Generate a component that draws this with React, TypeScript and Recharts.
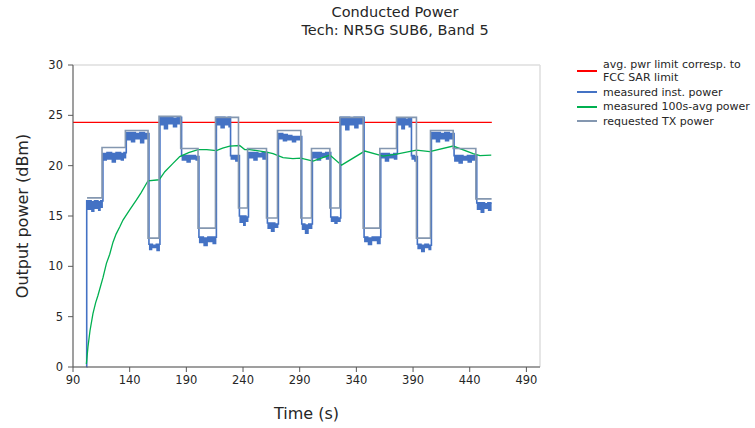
// App.tsx
//
// Conducted power vs. time for NR5G SUB6, Band 5.
// Requested TX power is a step trace, measured instantaneous power a noisy band
// just under it, plus the 100 s running average and the FCC SAR power limit.
// Two charts are stacked on the same scales: the lower one holds the grid and
// the limit line, so the measured band paints over the limit as in the original.

import {
  ComposedChart,
  Line,
  Area,
  XAxis,
  YAxis,
  CartesianGrid,
  Legend,
} from 'recharts';

// ─── Data ─────────────────────────────────────────────────────────────────────

const xTicks = [90, 140, 190, 240, 290, 340, 390, 440, 490];
const yTicks = [0, 5, 10, 15, 20, 25, 30];

// avg. pwr limit corresp. to FCC SAR limit
const limitTimes  = [90, 459.5];
const limitValues = [24.3, 24.3];

// requested TX power (value holds until the next time)
const reqTimes = [
  102.4, 115.6, 136.2, 156.2, 165.9, 185, 200.3, 215.7, 236, 244, 260.7, 270.4,
  291, 300.4, 316.6, 325.4, 346, 360.7, 375.4, 393, 405.4, 425.4, 445.4, 459.3,
];
const reqValues = [
  16.8, 21.8, 23.5, 12.8, 24.9, 21.7, 13.8, 24.8, 15.8, 21.7, 14.8, 23.5,
  14.8, 21.7, 15.8, 24.8, 13.8, 21.7, 24.8, 12.8, 23.5, 21.7, 16.7, 16.7,
];

// measured inst. power — upper / lower edge of the noisy trace
const instTimes = [
  102.0,
  102.1, 106, 109, 112, 114.5,
  116.4, 120, 124, 128, 132, 135,
  137, 141, 145, 149, 153,
  157, 160, 163.5,
  166.7, 170, 174, 178, 182,
  185.8, 190, 194, 198,
  201.1, 205, 209, 213,
  216.5, 220, 224, 227,
  229, 233,
  236.8, 240, 242.5,
  244.8, 249, 253, 257,
  261.5, 264.5, 268,
  271.2, 275, 279, 283, 287,
  291.8, 294.5, 298,
  301.2, 305, 309, 313,
  317.4, 320.5, 323.5,
  326.2, 330, 334, 338, 342,
  346.8, 350, 354, 358,
  361.5, 365, 369, 373,
  376.2, 379.5, 383, 386,
  388.6, 391,
  393.8, 397, 400.5, 403.5,
  406.2, 410, 414, 418, 422,
  426.2, 430, 434, 438, 442,
  446.2, 449.5, 453, 456, 459.3,
];
const instHigh = [
  0,
  16.5, 16.4, 16.5, 16.4, 16.5,
  21.2, 21.3, 21.2, 21.3, 21.2, 21.3,
  23.3, 23.3, 23.2, 23.3, 23.2,
  12.2, 12.1, 12.2,
  24.8, 24.8, 24.8, 24.7, 24.8,
  21.0, 21.0, 21.0, 20.9,
  12.9, 12.8, 12.9, 12.9,
  24.8, 24.8, 24.7, 24.8,
  21.0, 21.0,
  15.0, 15.0, 14.9,
  21.3, 21.3, 21.2, 21.3,
  14.3, 14.3, 14.2,
  23.2, 23.1, 23.0, 22.9, 22.9,
  14.2, 14.1, 14.2,
  21.3, 21.3, 21.2, 21.3,
  14.9, 14.9, 14.8,
  24.8, 24.8, 24.7, 24.8, 24.8,
  12.9, 12.8, 12.9, 12.9,
  21.2, 21.2, 21.1, 21.2,
  24.7, 24.7, 24.6, 24.7,
  21.0, 20.9,
  12.2, 12.1, 12.2, 12.1,
  23.3, 23.3, 23.2, 23.3, 23.2,
  21.0, 21.0, 20.9, 21.0, 21.0,
  16.3, 16.3, 16.2, 16.3, 16.3,
];
const instLow = [
  0,
  15.6, 15.4, 15.7, 15.5, 15.8,
  20.5, 20.6, 20.3, 20.6, 20.5, 20.7,
  22.5, 22.3, 22.6, 22.2, 22.6,
  11.6, 11.8, 11.5,
  24.0, 23.6, 24.1, 23.8, 24.1,
  20.5, 20.3, 20.6, 20.5,
  12.3, 12.0, 12.4, 12.2,
  24.0, 23.7, 24.0, 23.8,
  20.6, 20.4,
  14.3, 14.0, 14.4,
  20.7, 20.5, 20.8, 20.6,
  13.7, 13.4, 13.8,
  22.6, 22.4, 22.5, 22.3, 22.5,
  13.6, 13.2, 13.7,
  20.7, 20.5, 20.8, 20.6,
  14.4, 14.2, 14.4,
  24.0, 23.5, 24.0, 23.7, 24.1,
  12.4, 12.1, 12.5, 12.2,
  20.7, 20.4, 20.7, 20.6,
  24.0, 23.6, 24.0, 23.8,
  20.6, 20.4,
  11.7, 11.4, 11.8, 11.6,
  22.6, 22.3, 22.6, 22.4, 22.6,
  20.4, 20.2, 20.5, 20.3, 20.5,
  15.6, 15.3, 15.7, 15.5, 15.6,
];

// measured 100s-avg power
const avgTimes = [
  101.8, 103.2, 105, 107.6, 110, 112, 116.5, 119.5, 122.4, 125.3, 128, 131.2,
  134.1, 140, 146, 150, 156.2, 166, 171, 178, 184.2, 192, 200.3, 208, 216.5,
  222, 228.3, 237, 241.5, 246, 260.7, 266.5, 275.3, 284, 291, 301.8, 316.6,
  326.9, 347.4, 363.6, 375.4, 393, 404.7, 425.4, 443, 449, 459,
];
const avgValues = [
  0.3, 2.0, 3.6, 5.3, 6.4, 7.1, 8.9, 10.3, 11.2, 12.4, 13.2, 13.9,
  14.6, 15.6, 16.6, 17.3, 18.5, 18.6, 19.4, 20.2, 20.9, 21.3, 21.6, 21.6, 21.5,
  21.75, 21.95, 22.0, 21.6, 21.6, 21.35, 21.2, 20.8, 20.7, 20.75, 20.45, 21.05,
  20.05, 21.45, 20.95, 21.15, 21.55, 21.4, 21.95, 21.2, 21.0, 21.05,
];

const seriesNames = [
  'avg. pwr limit corresp. to\nFCC SAR limit',
  'measured inst. power',
  'measured 100s-avg power',
  'requested TX power',
];

// ─── Styling ──────────────────────────────────────────────────────────────────

const FONT = '"DejaVu Sans", Verdana, sans-serif';

const colors = {
  limit:   '#ff0000',
  inst:    '#4472c4',
  avg:     '#00b050',
  req:     '#8497b0',
  grid:    '#dedede',
  axis:    '#595959',
  text:    '#262626',
};

const seriesColors = [colors.limit, colors.inst, colors.avg, colors.req];

const W = 755;
const H = 428;
const MARGIN = { top: 65, right: 215, bottom: 0, left: 0 };
const X_DOMAIN: [number, number] = [90, 502];
const Y_DOMAIN: [number, number] = [0, 30];

// ─── Table building ───────────────────────────────────────────────────────────

const limitData = limitTimes.map((t, i) => ({ t, v: limitValues[i] }));
const reqData   = reqTimes.map((t, i) => ({ t, v: reqValues[i] }));
// band drawn as a stack: invisible floor (lo) + filled thickness (hi - lo)
const instData  = instTimes.map((t, i) => ({
  t,
  lo:    instLow[i],
  thick: +(instHigh[i] - instLow[i]).toFixed(2),
}));
const avgData   = avgTimes.map((t, i) => ({ t, v: avgValues[i] }));

// ─── Labels / legend ──────────────────────────────────────────────────────────

function YTitle(props: any) {
  const vb = props.viewBox ?? { x: 0, y: 65, width: 73, height: 302 };
  const cx = vb.x + 22;
  const cy = vb.y + vb.height / 2;
  return (
    <text
      x={cx}
      y={cy}
      transform={`rotate(-90 ${cx} ${cy})`}
      textAnchor="middle"
      dominantBaseline="central"
      fontFamily={FONT}
      fontSize={16}
      fill={colors.text}
    >
      Output power (dBm)
    </text>
  );
}

function XTitle(props: any) {
  const vb = props.viewBox ?? { x: 73, y: 367, width: 467, height: 61 };
  return (
    <text
      x={vb.x + vb.width / 2}
      y={vb.y + 46}
      textAnchor="middle"
      dominantBaseline="central"
      fontFamily={FONT}
      fontSize={16}
      fill={colors.text}
    >
      Time (s)
    </text>
  );
}

function LegendBox() {
  return (
    <div style={{ fontFamily: FONT, fontSize: 11, color: colors.text }}>
      {seriesNames.map((name, i) => {
        const lines = name.split('\n');
        return (
          <div
            key={name}
            style={{
              display: 'flex',
              alignItems: 'center',
              height: lines.length * 13,
              marginBottom: i === 0 ? 1.5 : 1.7,
            }}
          >
            <span
              style={{
                display: 'inline-block',
                width: 20,
                height: 2,
                background: seriesColors[i],
                marginRight: 6,
                flexShrink: 0,
              }}
            />
            <span style={{ lineHeight: '13px', whiteSpace: 'nowrap' }}>
              {lines.map((l) => (
                <div key={l}>{l}</div>
              ))}
            </span>
          </div>
        );
      })}
    </div>
  );
}

// ─── Chart ────────────────────────────────────────────────────────────────────

const layer: React.CSSProperties = { position: 'absolute', left: 0, top: 0 };

export default function App() {
  return (
    <div
      style={{
        position: 'absolute',
        left: 0,
        top: 0,
        width: W,
        height: H,
        background: '#ffffff',
        fontFamily: FONT,
      }}
    >
      {/* lower layer: grid + limit line, same plot box as the upper chart */}
      <div style={layer}>
        <ComposedChart width={W} height={H} margin={MARGIN}>
          <CartesianGrid stroke={colors.grid} strokeWidth={1.5} />
          <XAxis
            type="number"
            dataKey="t"
            domain={X_DOMAIN}
            ticks={xTicks}
            allowDataOverflow
            height={61}
            axisLine={false}
            tickLine={false}
            tick={false}
          />
          <YAxis
            type="number"
            domain={Y_DOMAIN}
            ticks={yTicks}
            width={73}
            axisLine={false}
            tickLine={false}
            tick={false}
          />
          <Line
            data={limitData}
            dataKey="v"
            name={seriesNames[0]}
            type="linear"
            stroke={colors.limit}
            strokeWidth={1.3}
            dot={false}
            activeDot={false}
            isAnimationActive={false}
          />
        </ComposedChart>
      </div>

      {/* upper layer: axes, measured band, average, requested power, legend */}
      <div style={layer}>
        <ComposedChart width={W} height={H} data={instData} margin={MARGIN}>
          <XAxis
            type="number"
            dataKey="t"
            domain={X_DOMAIN}
            ticks={xTicks}
            allowDataOverflow
            height={61}
            stroke={colors.axis}
            tickSize={5}
            tickMargin={4}
            tick={{ fill: colors.text, fontSize: 11.5, fontFamily: FONT }}
            label={(p: any) => <XTitle {...p} />}
          />

          <YAxis
            type="number"
            domain={Y_DOMAIN}
            ticks={yTicks}
            width={73}
            stroke={colors.axis}
            tickSize={5}
            tickMargin={5}
            tick={{ fill: colors.text, fontSize: 11.5, fontFamily: FONT }}
            label={(p: any) => <YTitle {...p} />}
          />

          <Area
            dataKey="lo"
            stackId="inst"
            type="stepAfter"
            stroke="none"
            fill="none"
            dot={false}
            activeDot={false}
            isAnimationActive={false}
          />

          <Area
            dataKey="thick"
            stackId="inst"
            name={seriesNames[1]}
            type="stepAfter"
            stroke={colors.inst}
            strokeWidth={1.6}
            fill={colors.inst}
            fillOpacity={1}
            dot={false}
            activeDot={false}
            isAnimationActive={false}
          />

          <Line
            data={avgData}
            dataKey="v"
            name={seriesNames[2]}
            type="linear"
            stroke={colors.avg}
            strokeWidth={1.3}
            dot={false}
            isAnimationActive={false}
          />

          <Line
            data={reqData}
            dataKey="v"
            name={seriesNames[3]}
            type="stepAfter"
            stroke={colors.req}
            strokeWidth={1.6}
            dot={false}
            isAnimationActive={false}
          />

          <Legend
            layout="vertical"
            align="center"
            verticalAlign="middle"
            content={() => <LegendBox />}
            wrapperStyle={{ left: 577, top: 58, width: 178 }}
          />
        </ComposedChart>
      </div>

      <div
        style={{
          position: 'absolute',
          left: 245,
          top: 3,
          width: 300,
          textAlign: 'center',
          fontSize: 14.5,
          lineHeight: '18px',
          color: colors.text,
        }}
      >
        <div>Conducted Power</div>
        <div>Tech: NR5G SUB6, Band 5</div>
      </div>
    </div>
  );
}
